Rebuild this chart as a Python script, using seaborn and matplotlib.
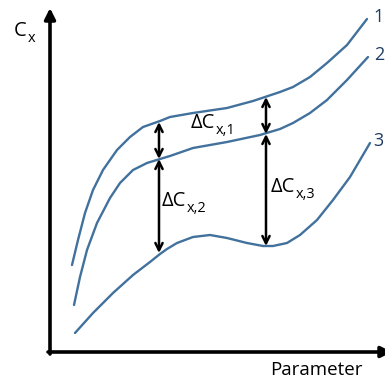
import matplotlib
matplotlib.use("Agg")
import matplotlib.pyplot as plt
import pandas as pd
import seaborn as sns

# curve points (x = parameter, y = Cx, pixel-like units, y grows downward)
curve1_x = [72, 78, 85, 93, 103, 117, 130, 143, 160, 170, 193, 227, 253, 265, 280, 293, 310, 327, 347, 367]
curve1_y = [265, 240, 213, 190, 170, 150, 137, 127, 121, 117, 113, 108, 101, 97, 92, 87, 77, 63, 45, 19]
curve2_x = [74, 80, 87, 97, 110, 120, 133, 147, 160, 170, 193, 227, 260, 270, 280, 293, 310, 327, 347, 368]
curve2_y = [305, 277, 250, 223, 198, 183, 170, 163, 159, 156, 148, 142, 135, 132, 129, 123, 113, 100, 80, 57]
curve3_x = [75, 93, 113, 133, 150, 160, 167, 177, 193, 210, 227, 247, 263, 273, 287, 300, 317, 333, 350, 370]
curve3_y = [333, 313, 293, 275, 262, 254, 249, 243, 237, 235, 238, 243, 246, 246, 243, 235, 220, 200, 177, 143]
curve_names = ["1", "2", "3"]

# difference arrows: x position, top and bottom ends
gap_x = [159, 159, 266, 266]
gap_top = [122, 159, 97, 134]
gap_bottom = [159, 253, 134, 246]
gap_subs = ["x,1", "x,2", "x,3"]
gap_label_x = [191, 162, 271]
gap_label_y = [123, 201, 187]

CURVE_COLOR = "#41719c"
NAME_COLOR = "#1f3c64"
FONT = ["Open Sans", "DejaVu Sans"]

sns.set_theme(style="white")
plt.rcParams["font.family"] = FONT

df = pd.concat(
    [
        pd.DataFrame({"x": xs, "y": ys, "curve": name})
        for name, xs, ys in zip(curve_names, [curve1_x, curve2_x, curve3_x], [curve1_y, curve2_y, curve3_y])
    ],
    ignore_index=True,
)

fig = plt.figure(figsize=(3.85, 3.82), dpi=100)
ax = fig.add_axes([0, 0, 1, 1])
sns.lineplot(
    data=df, x="x", y="y", hue="curve", units="curve", estimator=None, sort=False,
    palette=[CURVE_COLOR] * 3, linewidth=1.7, legend=False, ax=ax,
)
ax.set_xlim(0, 385)
ax.set_ylim(382, 0)
ax.axis("off")

# axes with arrow heads
axis_arrow = dict(arrowstyle="-|>", lw=2.6, color="black", mutation_scale=16, shrinkA=0, shrinkB=0)
ax.annotate("", xy=(50, 8), xytext=(50, 354), arrowprops=axis_arrow, annotation_clip=False)
ax.annotate("", xy=(392, 352), xytext=(48, 352), arrowprops=axis_arrow, annotation_clip=False)

for xg, y0, y1 in zip(gap_x, gap_top, gap_bottom):
    ax.annotate("", xy=(xg, y0), xytext=(xg, y1),
                arrowprops=dict(arrowstyle="<->", lw=1.8, color="black", mutation_scale=13,
                                shrinkA=0, shrinkB=0))

# curve numbers, right-aligned at the picture edge like the original
for name, ys in zip(curve_names, [curve1_y, curve2_y, curve3_y]):
    ax.text(384, ys[-1] - 2, name, color=NAME_COLOR, fontsize=13, va="center", ha="right")


def sub_label(x, y, main, sub, size=14.5):
    t = ax.text(x, y, main, fontsize=size, color="black", va="center", ha="left")
    ax.annotate(sub, xy=(1, 0.12), xycoords=t, xytext=(0.5, 0), textcoords="offset points",
                fontsize=size * 0.72, color="black", va="center", ha="left")


for lx, ly, sub in zip(gap_label_x, gap_label_y, gap_subs):
    sub_label(lx, ly, "ΔC", sub)

sub_label(14, 31, "C", "x")
ax.text(316, 370, "Parameter", fontsize=13.5, color="black", va="center", ha="center")

fig.savefig("out.png", dpi=100)
